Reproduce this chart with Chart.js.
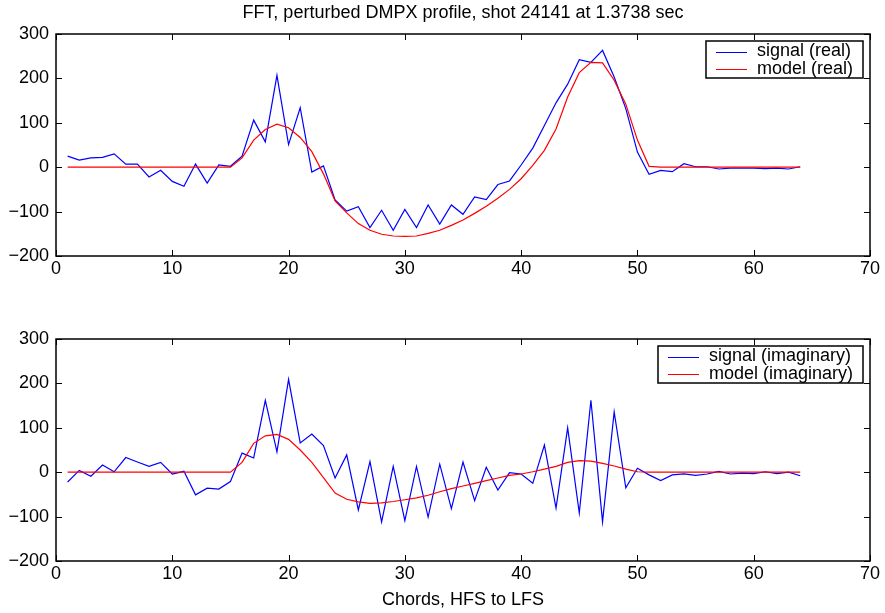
<!DOCTYPE html>
<html>
<head>
<meta charset="utf-8">
<title>FFT, perturbed DMPX profile</title>
<script src="https://cdn.jsdelivr.net/npm/chart.js@4.4.1/dist/chart.umd.min.js"></script>
<style>
  html, body { margin: 0; padding: 0; background: #fff; }
  #wrap { position: relative; width: 885px; height: 613px; }
  canvas { position: absolute; left: 0; }
  #realChart { top: 0; }
  #imagChart { top: 290px; }
</style>
</head>
<body>
<div id="wrap">
  <canvas id="realChart" width="885" height="290"></canvas>
  <canvas id="imagChart" width="885" height="323"></canvas>
</div>
<script>
// Chord numbers (x axis)
const chords = [
  1, 2, 3, 4, 5, 6, 7, 8, 9, 10, 11, 12, 13, 14, 15, 16,
  17, 18, 19, 20, 21, 22, 23, 24, 25, 26, 27, 28, 29, 30, 31, 32,
  33, 34, 35, 36, 37, 38, 39, 40, 41, 42, 43, 44, 45, 46, 47, 48,
  49, 50, 51, 52, 53, 54, 55, 56, 57, 58, 59, 60, 61, 62, 63, 64
];

// Real part
const signalReal = [
  25, 16, 21, 22, 30, 7, 7, -22, -7, -32, -43, 7, -36, 5, 2, 25,
  106, 57, 207, 51, 134, -11, 3, -74, -99, -89, -136, -97, -142, -95, -136, -85,
  -128, -85, -106, -67, -73, -39, -31, 5, 43, 94, 145, 187, 242, 236, 263, 203,
  132, 34, -16, -7, -10, 8, 1, 1, -4, -2, -2, -2, -3, -2, -4, 1
];
const modelReal = [
  0, 0, 0, 0, 0, 0, 0, 0, 0, 0, 0, 0, 0, 0, 0, 21,
  61, 85, 97, 89, 67, 35, -15, -76, -103, -127, -142, -151, -155, -156, -155, -149,
  -142, -131, -119, -104, -88, -70, -50, -26, 4, 38, 86, 158, 213, 236, 235, 196,
  142, 61, 2, 0, 0, 0, 0, 0, 0, 0, 0, 0, 0, 0, 0, 0
];

// Imaginary part
const signalImag = [
  -22, 4, -9, 16, 1, 33, 23, 13, 22, -4, 2, -51, -36, -38, -21, 43,
  32, 162, 46, 209, 66, 86, 60, -13, 39, -85, 24, -112, 13, -109, 13, -101,
  18, -82, 23, -64, 11, -40, -1, -4, -25, 61, -81, 100, -92, 162, -112, 136,
  -35, 9, -6, -19, -6, -4, -7, -4, 2, -4, -2, -3, 1, -3, 0, -8
];
const modelImag = [
  0, 0, 0, 0, 0, 0, 0, 0, 0, 0, 0, 0, 0, 0, 0, 22,
  65, 82, 85, 74, 50, 22, -12, -47, -61, -67, -70, -69, -66, -62, -58, -52,
  -44, -37, -31, -25, -19, -13, -7, -4, 1, 7, 13, 22, 26, 25, 20, 14,
  7, 1, 0, 0, 0, 0, 0, 0, 0, 0, 0, 0, 0, 0, 0, 0
];

// Tick values
const xTicks = [0, 10, 20, 30, 40, 50, 60, 70];
const yTicks = [-200, -100, 0, 100, 200, 300];

const FONT_FAMILY = '"Liberation Sans", Arial, Helvetica, sans-serif';
const FONT_SIZE = 18;

Chart.defaults.font.family = FONT_FAMILY;
Chart.defaults.font.size = FONT_SIZE;
Chart.defaults.color = '#000';

function toPoints(values) {
  return values.map(function (v, i) {
    return { x: chords[i], y: v };
  });
}

// Box around the plot area with inward tick marks on all four sides
const framePlugin = {
  id: 'frame',
  afterDatasetsDraw(chart) {
    const { ctx, chartArea: a, scales } = chart;
    const len = 6;
    ctx.save();
    ctx.strokeStyle = '#000';
    ctx.lineWidth = 1;
    ctx.beginPath();
    scales.x.ticks.forEach(function (t) {
      const px = Math.round(scales.x.getPixelForValue(t.value)) + 0.5;
      ctx.moveTo(px, a.bottom);
      ctx.lineTo(px, a.bottom - len);
      ctx.moveTo(px, a.top);
      ctx.lineTo(px, a.top + len);
    });
    scales.y.ticks.forEach(function (t) {
      const py = Math.round(scales.y.getPixelForValue(t.value)) + 0.5;
      ctx.moveTo(a.left, py);
      ctx.lineTo(a.left + len, py);
      ctx.moveTo(a.right, py);
      ctx.lineTo(a.right - len, py);
    });
    ctx.stroke();
    ctx.lineWidth = 1.5;
    ctx.strokeRect(Math.round(a.left), Math.round(a.top), Math.round(a.width), Math.round(a.height));
    ctx.restore();
  }
};

// MATLAB style legend: boxed, top right inside the axes
const boxLegend = {
  id: 'boxLegend',
  afterDraw(chart) {
    const { ctx, chartArea: a } = chart;
    const sets = chart.data.datasets;
    ctx.save();
    ctx.font = FONT_SIZE + 'px ' + FONT_FAMILY;
    const textW = Math.max.apply(null, sets.map(function (d) { return ctx.measureText(d.label).width; }));
    const w = Math.round(51 + textW + 10);
    const h = 37;
    const left = Math.round(a.right - 7 - w);
    const top = Math.round(a.top + 7);
    ctx.fillStyle = '#fff';
    ctx.fillRect(left, top, w, h);
    ctx.strokeStyle = '#000';
    ctx.lineWidth = 1.5;
    ctx.strokeRect(left, top, w, h);
    ctx.textBaseline = 'middle';
    ctx.textAlign = 'left';
    sets.forEach(function (d, i) {
      const cy = top + 10.5 + i * 17.6;
      ctx.strokeStyle = d.borderColor;
      ctx.lineWidth = 1;
      ctx.beginPath();
      ctx.moveTo(left + 10, Math.round(cy) + 0.5);
      ctx.lineTo(left + 41, Math.round(cy) + 0.5);
      ctx.stroke();
      ctx.fillStyle = '#000';
      ctx.fillText(d.label, left + 51, cy);
    });
    ctx.restore();
  }
};

function minusSign(value) {
  return String(value).replace('-', '\u2212');
}

function buildChart(id, labels, signal, model, opts) {
  const canvas = document.getElementById(id);
  return new Chart(canvas, {
    type: 'line',
    data: {
      datasets: [
        {
          label: labels[0],
          data: toPoints(signal),
          borderColor: '#0000ff',
          borderWidth: 1.2,
          pointRadius: 0,
          fill: false,
          tension: 0,
          order: 1
        },
        {
          label: labels[1],
          data: toPoints(model),
          borderColor: '#ff0000',
          borderWidth: 1.2,
          pointRadius: 0,
          fill: false,
          tension: 0,
          order: 0
        }
      ]
    },
    options: {
      responsive: false,
      animation: false,
      events: [],
      layout: { padding: { top: opts.padTop, right: 15, left: 0, bottom: 0 } },
      plugins: {
        legend: { display: false },
        tooltip: { enabled: false },
        title: {
          display: !!opts.title,
          text: opts.title || '',
          color: '#000',
          fullSize: false,
          font: { size: FONT_SIZE, weight: 'normal' },
          padding: { top: 2, bottom: 10.4 }
        }
      },
      scales: {
        x: {
          type: 'linear',
          min: 0,
          max: 70,
          afterBuildTicks: function (s) {
            s.ticks = xTicks.map(function (v) { return { value: v }; });
          },
          afterFit: function (s) { s.height = opts.xHeight; },
          grid: { display: false, drawTicks: false },
          border: { display: false },
          ticks: { padding: 2, color: '#000', maxRotation: 0, autoSkip: false },
          title: {
            display: !!opts.xTitle,
            text: opts.xTitle || '',
            color: '#000',
            padding: { top: 0, bottom: 2 }
          }
        },
        y: {
          type: 'linear',
          min: -200,
          max: 300,
          afterBuildTicks: function (s) {
            s.ticks = yTicks.map(function (v) { return { value: v }; });
          },
          afterFit: function (s) { s.width = 56; },
          grid: { display: false, drawTicks: false },
          border: { display: false },
          ticks: { padding: 7, color: '#000', autoSkip: false, callback: minusSign }
        }
      }
    },
    plugins: [framePlugin, boxLegend]
  });
}

buildChart('realChart', ['signal (real)', 'model (real)'], signalReal, modelReal, {
  padTop: 0,
  title: 'FFT, perturbed DMPX profile, shot 24141 at 1.3738 sec',
  xHeight: 34
});

buildChart('imagChart', ['signal (imaginary)', 'model (imaginary)'], signalImag, modelImag, {
  padTop: 49,
  xTitle: 'Chords, HFS to LFS',
  xHeight: 52
});
</script>
</body>
</html>
